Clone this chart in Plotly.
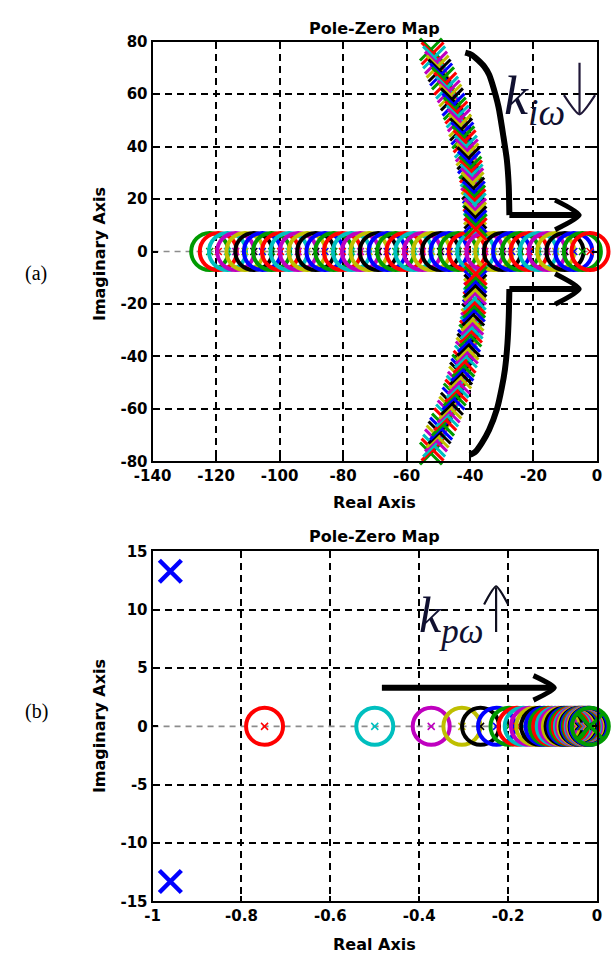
import plotly.graph_objects as go

# ---------------- panel (a) data ----------------
# real-axis zeros (circles), left -> right
a_zero_re = [-122.0, -119.3, -116.4, -113.8, -110.9, -108.1, -105.4, -102.5, -99.7, -97.0,
             -94.1, -91.3, -88.6, -85.7, -82.9, -80.2, -77.3, -74.5, -71.8, -68.9,
             -66.1, -63.4, -60.5, -57.7, -55.0, -52.1, -49.3, -46.6, -43.7, -40.9,
             -38.2, -35.3, -32.5, -29.8, -26.9, -24.1, -21.4, -18.5, -15.7, -13.0,
             -10.1, -7.3, -4.6, -2.2]
# complex pole pairs (upper half; lower half is mirrored), top -> bottom
a_pole_re = [-52.3, -51.8, -51.3, -50.7, -50.2, -49.6, -49.1, -48.5, -47.8, -47.2,
             -46.7, -46.2, -45.7, -45.2, -44.8, -44.3, -43.9, -43.5, -43.1, -42.8,
             -42.4, -42.1, -41.7, -41.3, -41.0, -40.8, -40.5, -40.3, -39.9, -39.7,
             -39.5, -39.3, -39.2, -39.0, -38.8, -38.7, -38.6, -38.5, -38.4, -38.4,
             -38.3, -38.3, -38.2, -38.2]
a_pole_im = [77.0, 75.5, 74.0, 72.0, 70.5, 69.0, 67.5, 66.0, 64.0, 62.5,
             61.0, 59.5, 58.0, 56.0, 54.5, 53.0, 51.5, 50.0, 48.0, 46.5,
             45.0, 43.5, 42.0, 40.0, 38.5, 37.0, 35.5, 34.0, 32.0, 30.5,
             29.0, 27.5, 26.0, 24.0, 22.5, 21.0, 19.5, 18.0, 16.0, 14.5,
             13.0, 11.5, 10.0, 8.5]
a_xticks = [-140, -120, -100, -80, -60, -40, -20, 0]
a_xtick_text = ["-140", "-120", "-100", "-80", "-60", "-40", "-20", "0"]
a_yticks = [-80, -60, -40, -20, 0, 20, 40, 60, 80]
a_ytick_text = ["-80", "-60", "-40", "-20", "0", "20", "40", "60", "80"]

# annotation guide paths for panel (a)
a_upper_bracket_x = [-41.5, -39.5, -37.5, -35.5, -34.0, -33.0, -31.0, -29.5, -28.4, -27.8, -27.6]
a_upper_bracket_y = [75.8, 75.0, 73.0, 70.5, 67.5, 64.0, 55.0, 44.0, 35.0, 25.0, 13.9]
a_upper_arrow_x = [-27.6, -6.0]
a_upper_arrow_y = [13.9, 13.9]
a_upper_head_x = [-13.2, -5.6, -13.2]
a_upper_head_y = [19.6, 13.9, 8.3]
a_lower_bracket_x = [-27.6, -27.8, -28.2, -29.0, -30.0, -31.5, -34.0, -36.3, -38.3, -40.0]
a_lower_bracket_y = [-14.3, -25.0, -35.0, -45.0, -52.0, -60.0, -68.0, -73.0, -76.3, -77.5]
a_lower_arrow_x = [-27.6, -6.0]
a_lower_arrow_y = [-14.3, -14.3]
a_lower_head_x = [-13.2, -5.6, -13.2]
a_lower_head_y = [-8.5, -14.3, -20.1]
a_down_shaft_x = [-5.5, -5.5]
a_down_shaft_y = [72.0, 52.6]
a_down_head_x = [-10.4, -5.5, -0.6]
a_down_head_y = [59.6, 52.3, 59.6]

# ---------------- panel (b) data ----------------
b_zero_re = [-0.748, -0.500, -0.373, -0.304, -0.262, -0.226, -0.198, -0.180, -0.166, -0.152,
             -0.140, -0.129, -0.119, -0.110, -0.102, -0.094, -0.087, -0.080, -0.074, -0.068,
             -0.063, -0.058, -0.053, -0.049, -0.045, -0.041, -0.038, -0.035, -0.032, -0.029,
             -0.026, -0.023, -0.020, -0.018, -0.015]
b_cplx_re = [-0.96, -0.96]
b_cplx_im = [13.3, -13.3]
b_origin_pole_re = [-0.015]
b_xticks = [-1, -0.8, -0.6, -0.4, -0.2, 0]
b_xtick_text = ["-1", "-0.8", "-0.6", "-0.4", "-0.2", "0"]
b_yticks = [-15, -10, -5, 0, 5, 10, 15]
b_ytick_text = ["-15", "-10", "-5", "0", "5", "10", "15"]
b_arrow_x = [-0.484, -0.100]
b_arrow_y = [3.3, 3.3]
b_head_x = [-0.143, -0.096, -0.143]
b_head_y = [4.35, 3.3, 2.25]
b_up_shaft_x = [-0.227, -0.227]
b_up_shaft_y = [11.9, 8.1]
b_up_head_x = [-0.254, -0.227, -0.200]
b_up_head_y = [10.45, 12.0, 10.45]

# ---------------- styling ----------------
MCOL = {"b": "#0000ff", "g": "#009a00", "r": "#ff0000", "c": "#00bfbf",
        "m": "#bf00bf", "y": "#bfbf00", "k": "#000000"}
a_cycle = ["g", "r", "c", "m", "y", "k", "b"]
b_cycle = ["r", "c", "m", "y", "k", "b", "g"]

W, H = 614, 965
X0, X1 = 139.0, 601.5
A_T, A_B = 33.3, 461.0
B_T, B_B = 552.7, 909.3

CIRC = 37      # circle marker diameter (px)
CIRC_W = 4     # circle stroke
XBIG = 22      # x marker size
XBIG_W = 3

fig = go.Figure()


def pts(x, y, xa, ya, symbol, size, width, color):
    fig.add_trace(go.Scatter(
        x=x, y=y, mode="markers", xaxis=xa, yaxis=ya, cliponaxis=False,
        showlegend=False, hoverinfo="skip",
        marker=dict(symbol=symbol, size=size, color=color, opacity=1,
                    line=dict(width=width, color=color))))


# gray dashed real axis lines
fig.add_trace(go.Scatter(x=[-140, 0], y=[0, 0], mode="lines", xaxis="x", yaxis="y",
                         line=dict(color="#8c8c8c", width=1.6, dash="6px,5px"),
                         hoverinfo="skip", showlegend=False))
fig.add_trace(go.Scatter(x=[-1, 0], y=[0, 0], mode="lines", xaxis="x2", yaxis="y2",
                         line=dict(color="#8c8c8c", width=1.6, dash="6px,5px"),
                         hoverinfo="skip", showlegend=False))

# panel (a) systems
for i in range(len(a_zero_re)):
    col = MCOL[a_cycle[i % 7]]
    z = a_zero_re[i]
    pr, pi = a_pole_re[i], a_pole_im[i]
    pts([pr, pr], [pi, -pi], "x", "y", "x-thin-open", XBIG, XBIG_W, col)
    pts([z], [0], "x", "y", "x-thin-open", 7, 1.5, col)
    pts([z], [0], "x", "y", "circle-open", CIRC, CIRC_W, col)

# panel (b) systems
for i in range(len(b_zero_re)):
    col = MCOL[b_cycle[i % 7]]
    z = b_zero_re[i]
    pts([z], [0], "x2", "y2", "x-thin-open", 7, 1.5, col)
    pts([z], [0], "x2", "y2", "circle-open", CIRC, CIRC_W, col)
pts(b_origin_pole_re, [0], "x2", "y2", "x-thin-open", 24, 3.5, MCOL["g"])
pts(b_cplx_re, b_cplx_im, "x2", "y2", "x-thin-open", 22, 4.5, MCOL["b"])


def guide(x, y, xa, ya, w, color="black"):
    fig.add_trace(go.Scatter(x=x, y=y, mode="lines", xaxis=xa, yaxis=ya,
                             cliponaxis=False, showlegend=False, hoverinfo="skip",
                             line=dict(color=color, width=w, shape="spline", smoothing=0.6)))


guide(a_upper_bracket_x, a_upper_bracket_y, "x", "y", 6)
guide(a_lower_bracket_x, a_lower_bracket_y, "x", "y", 6)
guide(a_upper_arrow_x, a_upper_arrow_y, "x", "y", 6)
guide(a_lower_arrow_x, a_lower_arrow_y, "x", "y", 6)
guide(a_upper_head_x, a_upper_head_y, "x", "y", 5)
guide(a_lower_head_x, a_lower_head_y, "x", "y", 5)
guide(a_down_shaft_x, a_down_shaft_y, "x", "y", 2.2, "#201838")
guide(a_down_head_x, a_down_head_y, "x", "y", 2.2, "#201838")
guide(b_arrow_x, b_arrow_y, "x2", "y2", 6)
guide(b_head_x, b_head_y, "x2", "y2", 5)
guide(b_up_shaft_x, b_up_shaft_y, "x2", "y2", 2.2, "#101020")
guide(b_up_head_x, b_up_head_y, "x2", "y2", 2.2, "#101020")

TICKFONT = dict(family="DejaVu Sans", size=15, color="black", weight="bold")


def axis(domain, rng, tv, tt, anchor):
    return dict(domain=domain, range=rng, anchor=anchor, tickmode="array",
                tickvals=tv, ticktext=tt, showline=True, linecolor="black", linewidth=2,
                mirror="ticks", ticks="inside", ticklen=5, tickwidth=1.5, tickcolor="black",
                showgrid=True, gridcolor="black", gridwidth=1.8, griddash="7px,5px",
                zeroline=True, zerolinecolor="rgba(0,0,0,0)", zerolinewidth=1,
                tickfont=TICKFONT, fixedrange=True)


xd = [X0 / W, X1 / W]
fig.update_layout(
    width=W, height=H, margin=dict(l=0, r=0, t=0, b=0),
    paper_bgcolor="white", plot_bgcolor="white", showlegend=False,
    xaxis=axis(xd, [-140, 0], a_xticks, a_xtick_text, "y"),
    yaxis=axis([1 - A_B / H, 1 - A_T / H], [-80, 80], a_yticks, a_ytick_text, "x"),
    xaxis2=axis(xd, [-1, 0], b_xticks, b_xtick_text, "y2"),
    yaxis2=axis([1 - B_B / H, 1 - B_T / H], [-15, 15], b_yticks, b_ytick_text, "x2"),
)

LABEL = dict(family="DejaVu Sans", size=16, color="black", weight="bold")
cx = (X0 + X1) / 2 / W
ann = []
for ty, text in [(20, "Pole-Zero Map"), (538, "Pole-Zero Map"), (503, "Real Axis"), (953, "Real Axis")]:
    ann.append(dict(xref="paper", yref="paper", x=cx, y=1 - ty / H, text=text, showarrow=False,
                    xanchor="center", yanchor="middle", font=LABEL))
for ty in [250, 731]:
    ann.append(dict(xref="paper", yref="paper", x=84 / W, y=1 - ty / H, text="Imaginary Axis",
                    showarrow=False, textangle=-90, xanchor="center", yanchor="middle", font=LABEL))
for ty, text in [(270, "(a)"), (716, "(b)")]:
    ann.append(dict(xref="paper", yref="paper", x=18 / W, y=1 - ty / H, text=text, showarrow=False,
                    xanchor="center", yanchor="middle",
                    font=dict(family="Liberation Serif", size=20, color="black")))
ann.append(dict(xref="x", yref="y", x=-29.8, y=58.0, text="<i>k</i><sub><i>iω</i></sub>",
                showarrow=False, xanchor="left", yanchor="middle",
                font=dict(family="Liberation Serif", size=54, color="#101030")))
ann.append(dict(xref="x2", yref="y2", x=-0.405, y=9.2, text="<i>k</i><sub><i>pω</i></sub>",
                showarrow=False, xanchor="left", yanchor="middle",
                font=dict(family="Liberation Serif", size=50, color="#101030")))
fig.update_layout(annotations=ann)

fig.write_html("out.html")
